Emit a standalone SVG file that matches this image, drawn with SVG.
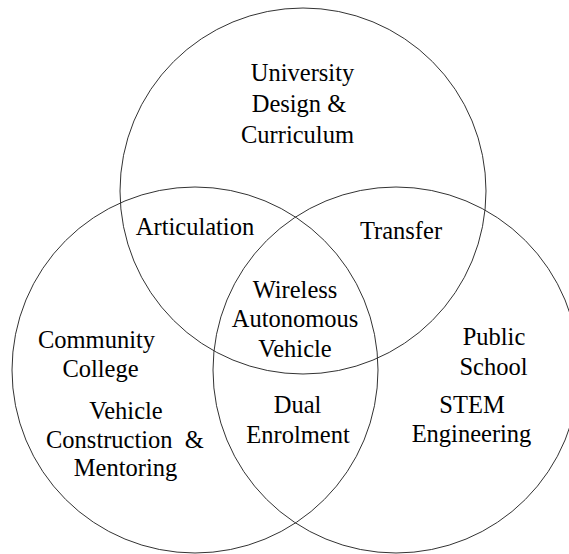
<svg xmlns="http://www.w3.org/2000/svg" width="569" height="554" viewBox="0 0 569 554">
<style>
.c{fill:none;stroke:#333;stroke-width:1}
text{font-family:"Liberation Serif","Times New Roman",serif;font-size:24.5px;fill:#000;text-anchor:middle}
.s{text-anchor:start}
</style>
<rect width="569" height="554" fill="#fff"/>
<g id="university">
<circle class="c" cx="303" cy="191" r="183"/>
<text x="302.5" y="80.5">University</text>
<text x="299" y="111.5">Design &amp;</text>
<text x="297.5" y="142.5">Curriculum</text>
</g>
<g id="college">
<circle class="c" cx="195" cy="370" r="183"/>
<text x="96.5" y="348">Community</text>
<text x="100.5" y="376.5">College</text>
<text x="126" y="419">Vehicle</text>
<text class="s" x="46" y="448">Construction&#160; &amp;</text>
<text x="125.5" y="476">Mentoring</text>
</g>
<g id="school">
<circle class="c" cx="396" cy="370" r="183"/>
<text x="494" y="345">Public</text>
<text x="493.5" y="375">School</text>
<text x="472" y="412.5">STEM</text>
<text x="471.5" y="441.5">Engineering</text>
</g>
<g id="articulation"><text x="195" y="235">Articulation</text></g>
<g id="transfer"><text x="401" y="239">Transfer</text></g>
<g id="center">
<text x="295" y="298">Wireless</text>
<text x="295" y="327">Autonomous</text>
<text x="295" y="356.5">Vehicle</text>
</g>
<g id="dual">
<text x="297.5" y="413">Dual</text>
<text x="298" y="443">Enrolment</text>
</g>
<g id="connectors"/>
</svg>
